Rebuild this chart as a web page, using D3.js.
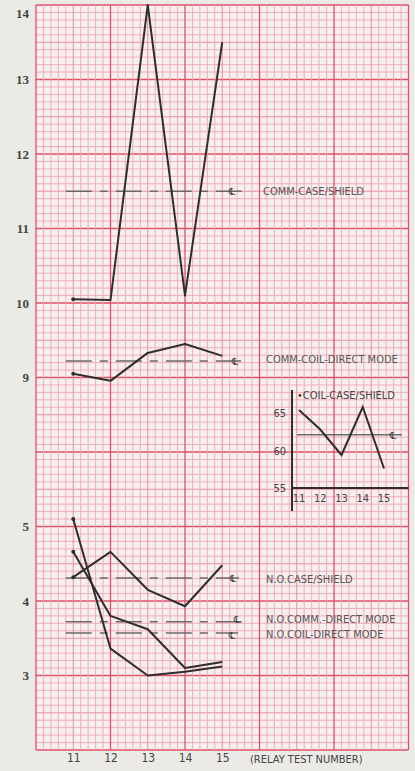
<!DOCTYPE html>
<meta charset="UTF-8">
<script src="https://d3js.org/d3.v7.min.js"></script>
<style>
  body { margin: 0; background: #ebeae6; }
  text { font-family: "Liberation Sans Narrow", "DejaVu Sans Condensed", sans-serif; }
</style>
<div id="my_dataviz"></div>
<script>

// relay test numbers on the x axis
const relayTests = [11, 12, 13, 14, 15];

// main chart series
const commCaseShield = [10.05, 10.04, 14.0, 10.1, 13.5];
const commCoilDirect = [9.05, 8.91, 9.33, 9.45, 9.29];
const noCaseShield   = [4.32, 4.66, 4.15, 3.93, 4.48];
const noCommDirect   = [4.66, 3.80, 3.62, 3.10, 3.18];
const noCoilDirect   = [5.20, 3.36, 3.00, 3.05, 3.12];

// centerline (average) levels, same order as the labels below
const seriesNames  = ["COMM-CASE/SHIELD", "COMM-COIL-DIRECT MODE", "N.O.CASE/SHIELD", "N.O.COMM.-DIRECT MODE", "N.O.COIL-DIRECT MODE"];
const centerLevels = [11.5, 9.22, 4.31, 3.72, 3.57];

// inset: coil-case/shield
const coilCaseShield = [65.4, 62.8, 59.4, 65.8, 57.6];
const coilCaseCenter = 62.1;

const yTicks = [3, 4, 5, 9, 10, 11, 12, 13, 14];
const insetYTicks = [55, 60, 65];

var width = 415, height = 771;
var gridLeft = 36, gridTop = 5, cell = 74.5;
var gridRight = gridLeft + 5 * cell, gridBottom = gridTop + 10 * cell;

var svg = d3.select("#my_dataviz")
  .append("svg")
    .attr("width", width)
    .attr("height", height);

// x scale: 10..20 over the 5 major columns
var x = d3.scaleLinear().domain([10, 20]).range([gridLeft, gridRight]);
// y scale with a break between 5 and 9
var y = d3.scaleLinear().domain([2, 5, 9, 14]).range([gridBottom, gridTop + 7 * cell, gridTop + 5 * cell, gridTop]);

// graph paper
var paper = svg.append("g");
paper.append("rect")
  .attr("x", gridLeft).attr("y", gridTop)
  .attr("width", gridRight - gridLeft).attr("height", gridBottom - gridTop)
  .attr("fill", "#f8f0ef");

var gx = d3.scaleLinear().domain([0, 50]).range([gridLeft, gridRight]);
var gy = d3.scaleLinear().domain([0, 100]).range([gridTop, gridBottom]);

function lineColor(i) { return i % 10 == 0 ? "#e0506a" : (i % 5 == 0 ? "#ea8597" : "#f1a7b5"); }
function lineWidth(i) { return i % 10 == 0 ? 1.3 : 0.9; }

// minor first, majors on top
[d3.range(0, 101).filter(function(i) { return i % 10 != 0; }), d3.range(0, 101, 10)].forEach(function(set) {
  paper.append("g").selectAll("line").data(set).enter().append("line")
    .attr("x1", gridLeft).attr("x2", gridRight)
    .attr("y1", function(d) { return gy(d); }).attr("y2", function(d) { return gy(d); })
    .attr("stroke", lineColor).attr("stroke-width", lineWidth);
});
[d3.range(0, 51).filter(function(i) { return i % 10 != 0; }), d3.range(0, 51, 10)].forEach(function(set) {
  paper.append("g").selectAll("line").data(set).enter().append("line")
    .attr("y1", gridTop).attr("y2", gridBottom)
    .attr("x1", function(d) { return gx(d); }).attr("x2", function(d) { return gx(d); })
    .attr("stroke", lineColor).attr("stroke-width", lineWidth);
});

// axes (labels only)
var yAxis = svg.append("g")
  .attr("transform", "translate(" + gridLeft + ",0)")
  .call(d3.axisLeft(y).tickValues(yTicks).tickSize(0).tickPadding(7).tickFormat(d3.format("d")));
yAxis.select(".domain").remove();
yAxis.selectAll("text").style("font-family", "'Liberation Serif', serif").style("font-weight", "bold")
  .style("font-size", "13px").attr("fill", "#444");
// top label sits just under the paper edge
yAxis.selectAll(".tick").filter(function(d) { return d == 14; }).select("text").attr("dy", "0.95em");

var xAxis = svg.append("g")
  .attr("transform", "translate(0," + gridBottom + ")")
  .call(d3.axisBottom(x).tickValues(relayTests).tickSize(0).tickPadding(3).tickFormat(d3.format("d")));
xAxis.select(".domain").remove();
xAxis.selectAll("text").style("font-size", "12px").attr("fill", "#444");

svg.append("text")
  .attr("x", 250).attr("y", gridBottom + 13)
  .style("font-size", "11px").attr("fill", "#444")
  .text("(RELAY TEST NUMBER)");

// centerlines + labels
var labelY = [191, 359, 579, 619, 634];
var symbolX = [232, 235, 233, 237, 232];
var symbolDy = [4, 4, 4, 1, 6];
centerLevels.forEach(function(c, i) {
  svg.append("line")
    .attr("x1", x(10.8)).attr("x2", symbolX[i] + (i == 0 ? 18 : 6))
    .attr("y1", y(c)).attr("y2", y(c))
    .attr("stroke", "#6a6a6a").attr("stroke-width", 1.5)
    .attr("stroke-dasharray", "26,8,8,8");
  svg.append("text")
    .attr("x", symbolX[i]).attr("y", y(c) + symbolDy[i])
    .attr("text-anchor", "middle")
    .style("font-family", "'DejaVu Sans', sans-serif").style("font-size", "10px")
    .attr("fill", "#444").text("\u2104");
  svg.append("text")
    .attr("x", i == 0 ? 263 : 266).attr("y", labelY[i] + 4)
    .style("font-size", "11px").attr("fill", "#555")
    .text(seriesNames[i]);
});

// series lines
var allSeries = [commCaseShield, commCoilDirect, noCaseShield, noCommDirect, noCoilDirect];
var line = d3.line()
  .x(function(d, i) { return x(relayTests[i]); })
  .y(function(d) { return y(d); });

svg.append("g").selectAll("path")
  .data(allSeries)
  .enter()
  .append("path")
    .attr("d", line)
    .attr("fill", "none")
    .attr("stroke", "#2e2e2e")
    .attr("stroke-width", 2)
    .attr("stroke-linejoin", "round");

svg.append("g").selectAll("circle")
  .data(allSeries.map(function(s) { return s[0]; }))
  .enter().append("circle")
    .attr("cx", x(11)).attr("cy", function(d) { return y(d); })
    .attr("r", 2).attr("fill", "#2e2e2e");

// inset chart
var ix = d3.scaleLinear().domain([11, 15]).range([299, 384]);
var iy = d3.scaleLinear().domain([55, 65]).range([488, 413]);
var inset = svg.append("g");

inset.append("line").attr("x1", 292).attr("x2", 292).attr("y1", 390).attr("y2", 511)
  .attr("stroke", "#2e2e2e").attr("stroke-width", 2);
inset.append("line").attr("x1", 292).attr("x2", gridRight).attr("y1", iy(55)).attr("y2", iy(55))
  .attr("stroke", "#2e2e2e").attr("stroke-width", 2);

inset.selectAll(".iyt").data(insetYTicks).enter().append("text")
  .attr("x", 286).attr("y", function(d) { return iy(d) + 4; })
  .attr("text-anchor", "end").style("font-size", "11px").attr("fill", "#444")
  .text(function(d) { return d; });
inset.selectAll(".ixt").data(relayTests).enter().append("text")
  .attr("x", function(d) { return ix(d); }).attr("y", iy(55) + 14)
  .attr("text-anchor", "middle").style("font-size", "11px").attr("fill", "#444")
  .text(function(d) { return d; });

inset.append("line").attr("x1", 297).attr("x2", 402)
  .attr("y1", iy(coilCaseCenter)).attr("y2", iy(coilCaseCenter))
  .attr("stroke", "#6a6a6a").attr("stroke-width", 1.5);
inset.append("text").attr("x", 393).attr("y", iy(coilCaseCenter) + 4)
  .attr("text-anchor", "middle")
  .style("font-family", "'DejaVu Sans', sans-serif").style("font-size", "10px")
  .attr("fill", "#444").text("\u2104");

inset.append("path")
  .datum(coilCaseShield)
  .attr("d", d3.line().x(function(d, i) { return ix(relayTests[i]); }).y(function(d) { return iy(d); }))
  .attr("fill", "none").attr("stroke", "#2e2e2e").attr("stroke-width", 2);

inset.append("text").attr("x", 297).attr("y", 399)
  .style("font-size", "11px").attr("fill", "#444")
  .text("\u2022COIL-CASE/SHIELD");

</script>
